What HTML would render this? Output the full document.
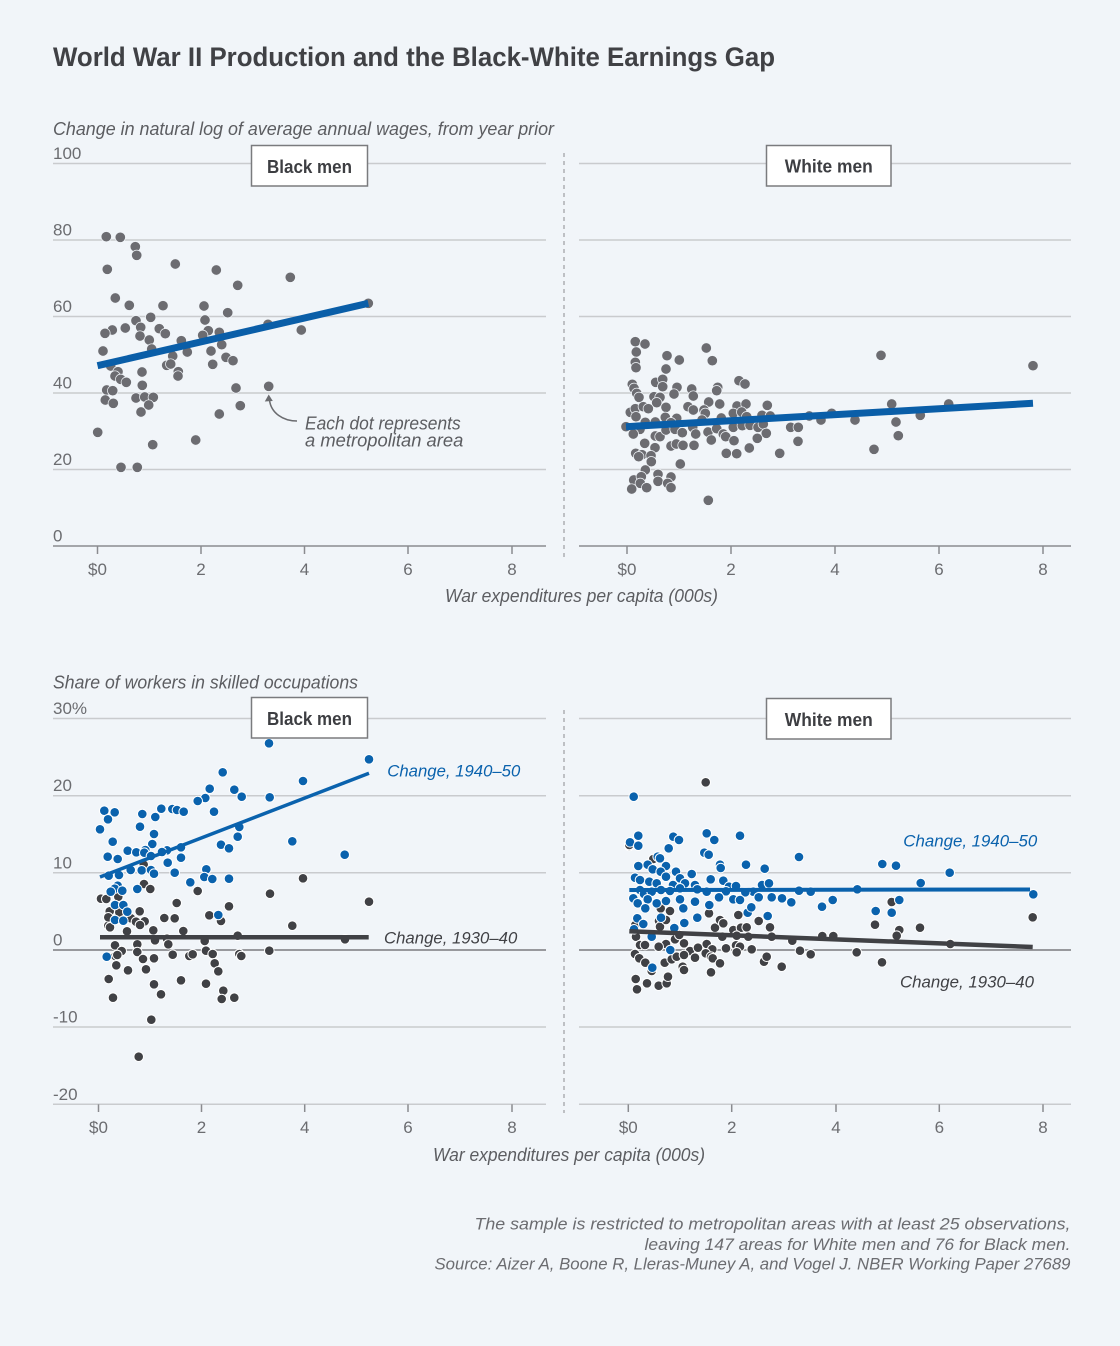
<!DOCTYPE html>
<html><head><meta charset="utf-8"><style>
html,body{margin:0;padding:0;background:#f1f5f9;}
svg{display:block;}
text{font-family:"Liberation Sans",sans-serif;}
</style></head><body>
<svg width="1120" height="1346" viewBox="0 0 1120 1346" xmlns="http://www.w3.org/2000/svg">
<rect x="0" y="0" width="1120" height="1346" fill="#f1f5f9"/>
<text x="53" y="66" font-size="27" font-weight="bold" fill="#404145" textLength="722" lengthAdjust="spacingAndGlyphs">World War II Production and the Black-White Earnings Gap</text>
<text x="53" y="135" font-size="18" font-style="italic" fill="#5c5d61" textLength="501" lengthAdjust="spacingAndGlyphs">Change in natural log of average annual wages, from year prior</text>

<!-- TOP gridlines -->
<g stroke="#c9cbce" stroke-width="1.5">
<line x1="53" y1="163.5" x2="546" y2="163.5"/><line x1="53" y1="240" x2="546" y2="240"/><line x1="53" y1="316.5" x2="546" y2="316.5"/><line x1="53" y1="393" x2="546" y2="393"/><line x1="53" y1="469.5" x2="546" y2="469.5"/>
<line x1="579" y1="163.5" x2="1071" y2="163.5"/><line x1="579" y1="240" x2="1071" y2="240"/><line x1="579" y1="316.5" x2="1071" y2="316.5"/><line x1="579" y1="393" x2="1071" y2="393"/><line x1="579" y1="469.5" x2="1071" y2="469.5"/>
</g>
<g stroke="#8a8b8f" stroke-width="1.5">
<line x1="53" y1="546" x2="546" y2="546"/><line x1="579" y1="546" x2="1071" y2="546"/>
<line x1="97.5" y1="546" x2="97.5" y2="554"/><line x1="201" y1="546" x2="201" y2="554"/><line x1="304.5" y1="546" x2="304.5" y2="554"/><line x1="408" y1="546" x2="408" y2="554"/><line x1="512" y1="546" x2="512" y2="554"/>
<line x1="627" y1="546" x2="627" y2="554"/><line x1="731" y1="546" x2="731" y2="554"/><line x1="835" y1="546" x2="835" y2="554"/><line x1="939" y1="546" x2="939" y2="554"/><line x1="1043" y1="546" x2="1043" y2="554"/>
</g>
<line x1="564" y1="153" x2="564" y2="557" stroke="#8a8b8f" stroke-width="1" stroke-dasharray="4,4"/>
<g font-size="17" fill="#6b6c70">
<text x="53" y="159">100</text><text x="53" y="235.5">80</text><text x="53" y="312">60</text><text x="53" y="388.5">40</text><text x="53" y="465">20</text><text x="53" y="541.5">0</text>
</g>
<g font-size="17" fill="#6b6c70" text-anchor="middle">
<text x="97.5" y="575">$0</text><text x="201" y="575">2</text><text x="304.5" y="575">4</text><text x="408" y="575">6</text><text x="512" y="575">8</text>
<text x="627" y="575">$0</text><text x="731" y="575">2</text><text x="835" y="575">4</text><text x="939" y="575">6</text><text x="1043" y="575">8</text>
</g>
<text x="445" y="602" font-size="18" font-style="italic" fill="#5c5d61" textLength="273" lengthAdjust="spacingAndGlyphs">War expenditures per capita (000s)</text>

<!-- top-left dots -->
<g fill="#6c6c71" stroke="#f1f5f9" stroke-width="0.7">
<circle cx="106.3" cy="236.7" r="5.2"/><circle cx="120.3" cy="237.3" r="5.2"/><circle cx="135.3" cy="246.7" r="5.2"/><circle cx="136.7" cy="255.3" r="5.2"/><circle cx="107.3" cy="269.3" r="5.2"/><circle cx="175.3" cy="264" r="5.2"/><circle cx="216.3" cy="270" r="5.2"/><circle cx="237.7" cy="285.3" r="5.2"/><circle cx="290.3" cy="277.3" r="5.2"/><circle cx="115.3" cy="298" r="5.2"/><circle cx="129.3" cy="305.3" r="5.2"/><circle cx="163" cy="305.7" r="5.2"/><circle cx="204" cy="306" r="5.2"/><circle cx="227.7" cy="312.7" r="5.2"/><circle cx="368.3" cy="303.3" r="5.2"/><circle cx="150.7" cy="317.3" r="5.2"/><circle cx="136" cy="320.7" r="5.2"/><circle cx="205" cy="320" r="5.2"/><circle cx="140.7" cy="327.3" r="5.2"/><circle cx="125.3" cy="328" r="5.2"/><circle cx="159.3" cy="328.7" r="5.2"/><circle cx="112.3" cy="330" r="5.2"/><circle cx="105" cy="333.3" r="5.2"/><circle cx="140" cy="336" r="5.2"/><circle cx="165.3" cy="333.7" r="5.2"/><circle cx="208.3" cy="330.7" r="5.2"/><circle cx="219.3" cy="332.3" r="5.2"/><circle cx="202.7" cy="335.3" r="5.2"/><circle cx="268" cy="324.3" r="5.2"/><circle cx="301.3" cy="330" r="5.2"/><circle cx="149.3" cy="340" r="5.2"/><circle cx="181.3" cy="340.7" r="5.2"/><circle cx="221.7" cy="344.7" r="5.2"/><circle cx="103" cy="351" r="5.2"/><circle cx="151.7" cy="349" r="5.2"/><circle cx="187.3" cy="352" r="5.2"/><circle cx="211" cy="351" r="5.2"/><circle cx="172.7" cy="356" r="5.2"/><circle cx="226" cy="357.3" r="5.2"/><circle cx="233" cy="360.7" r="5.2"/><circle cx="110.7" cy="366" r="5.2"/><circle cx="166.7" cy="365.3" r="5.2"/><circle cx="170.7" cy="364" r="5.2"/><circle cx="212.7" cy="364.3" r="5.2"/><circle cx="118" cy="371.7" r="5.2"/><circle cx="142" cy="372" r="5.2"/><circle cx="178.3" cy="371.7" r="5.2"/><circle cx="115" cy="376" r="5.2"/><circle cx="120.7" cy="379.3" r="5.2"/><circle cx="126.3" cy="382.3" r="5.2"/><circle cx="178" cy="376" r="5.2"/><circle cx="142.3" cy="385.3" r="5.2"/><circle cx="236" cy="388" r="5.2"/><circle cx="268.7" cy="386.3" r="5.2"/><circle cx="106.7" cy="390" r="5.2"/><circle cx="112.7" cy="390.7" r="5.2"/><circle cx="105.3" cy="400" r="5.2"/><circle cx="113.3" cy="403.3" r="5.2"/><circle cx="136" cy="398" r="5.2"/><circle cx="144.7" cy="397" r="5.2"/><circle cx="153.3" cy="397.3" r="5.2"/><circle cx="148.7" cy="405" r="5.2"/><circle cx="141" cy="412" r="5.2"/><circle cx="240.3" cy="405.7" r="5.2"/><circle cx="219.3" cy="414" r="5.2"/><circle cx="97.7" cy="432.3" r="5.2"/><circle cx="195.7" cy="440" r="5.2"/><circle cx="152.7" cy="444.7" r="5.2"/><circle cx="121" cy="467.3" r="5.2"/><circle cx="137.3" cy="467.3" r="5.2"/>
</g>
<line x1="97.5" y1="365.7" x2="368.3" y2="303.3" stroke="#0a5ea8" stroke-width="7"/>
<path d="M297,421 C283,421 271,413 269.5,400" fill="none" stroke="#6b6c70" stroke-width="1.5"/>
<polygon points="268.7,394.5 264.8,401.5 272.8,401" fill="#6b6c70"/>
<text x="305" y="429.3" font-size="18" font-style="italic" fill="#5c5d61" textLength="155.7" lengthAdjust="spacingAndGlyphs">Each dot represents</text>
<text x="305" y="446.7" font-size="18" font-style="italic" fill="#5c5d61" textLength="158.3" lengthAdjust="spacingAndGlyphs">a metropolitan area</text>

<!-- top-right dots -->
<g fill="#6c6c71" stroke="#f1f5f9" stroke-width="0.7">
<circle cx="635.3" cy="341.7" r="5.2"/><circle cx="645" cy="344" r="5.2"/><circle cx="636.3" cy="352" r="5.2"/><circle cx="635.3" cy="362.3" r="5.2"/><circle cx="636" cy="367.7" r="5.2"/><circle cx="667" cy="355.7" r="5.2"/><circle cx="679.3" cy="360" r="5.2"/><circle cx="706.3" cy="348" r="5.2"/><circle cx="712.3" cy="360.7" r="5.2"/><circle cx="881" cy="355.3" r="5.2"/><circle cx="1033" cy="365.7" r="5.2"/><circle cx="666" cy="369" r="5.2"/><circle cx="632.3" cy="384.3" r="5.2"/><circle cx="655.7" cy="382.3" r="5.2"/><circle cx="662.7" cy="379.3" r="5.2"/><circle cx="662.7" cy="386.7" r="5.2"/><circle cx="677" cy="387.3" r="5.2"/><circle cx="674" cy="394" r="5.2"/><circle cx="691.7" cy="389" r="5.2"/><circle cx="693.3" cy="396" r="5.2"/><circle cx="717.7" cy="387.3" r="5.2"/><circle cx="716.7" cy="390.7" r="5.2"/><circle cx="739" cy="380.7" r="5.2"/><circle cx="745" cy="384" r="5.2"/><circle cx="634" cy="388.3" r="5.2"/><circle cx="636.7" cy="393.3" r="5.2"/><circle cx="639" cy="397.3" r="5.2"/><circle cx="654" cy="396.7" r="5.2"/><circle cx="660" cy="397.3" r="5.2"/><circle cx="656.7" cy="402.7" r="5.2"/><circle cx="666" cy="407.3" r="5.2"/><circle cx="708.7" cy="402" r="5.2"/><circle cx="719.7" cy="404" r="5.2"/><circle cx="688" cy="406.7" r="5.2"/><circle cx="693.3" cy="410" r="5.2"/><circle cx="737" cy="406" r="5.2"/><circle cx="746" cy="404" r="5.2"/><circle cx="767.3" cy="405.3" r="5.2"/><circle cx="891.7" cy="404" r="5.2"/><circle cx="948.7" cy="404" r="5.2"/><circle cx="630.3" cy="412.3" r="5.2"/><circle cx="635.3" cy="408.7" r="5.2"/><circle cx="643.3" cy="406.7" r="5.2"/><circle cx="648.3" cy="408.7" r="5.2"/><circle cx="636" cy="416.7" r="5.2"/><circle cx="665.3" cy="417.3" r="5.2"/><circle cx="676.7" cy="418.3" r="5.2"/><circle cx="704" cy="410" r="5.2"/><circle cx="705.3" cy="413.3" r="5.2"/><circle cx="702" cy="420" r="5.2"/><circle cx="721.3" cy="418" r="5.2"/><circle cx="733.3" cy="413.3" r="5.2"/><circle cx="741.7" cy="412" r="5.2"/><circle cx="746.7" cy="416.7" r="5.2"/><circle cx="762" cy="415.3" r="5.2"/><circle cx="770.3" cy="416" r="5.2"/><circle cx="809.3" cy="416" r="5.2"/><circle cx="831.7" cy="413.3" r="5.2"/><circle cx="920.3" cy="415.3" r="5.2"/><circle cx="626" cy="426.7" r="5.2"/><circle cx="645.3" cy="422.3" r="5.2"/><circle cx="640" cy="429.3" r="5.2"/><circle cx="633.3" cy="434" r="5.2"/><circle cx="655.3" cy="422" r="5.2"/><circle cx="655.3" cy="436" r="5.2"/><circle cx="660" cy="436.7" r="5.2"/><circle cx="666" cy="430" r="5.2"/><circle cx="671" cy="422.7" r="5.2"/><circle cx="675" cy="429.3" r="5.2"/><circle cx="682.3" cy="432.7" r="5.2"/><circle cx="692.7" cy="427.3" r="5.2"/><circle cx="695.7" cy="434" r="5.2"/><circle cx="708" cy="432" r="5.2"/><circle cx="716.7" cy="428.7" r="5.2"/><circle cx="723.3" cy="434" r="5.2"/><circle cx="725.7" cy="436.7" r="5.2"/><circle cx="733.3" cy="427.3" r="5.2"/><circle cx="742.3" cy="425.7" r="5.2"/><circle cx="750" cy="425.3" r="5.2"/><circle cx="758" cy="427.3" r="5.2"/><circle cx="763.3" cy="424" r="5.2"/><circle cx="766.3" cy="433.3" r="5.2"/><circle cx="790.7" cy="427.3" r="5.2"/><circle cx="798.3" cy="427.3" r="5.2"/><circle cx="821" cy="420" r="5.2"/><circle cx="855" cy="420" r="5.2"/><circle cx="896" cy="422" r="5.2"/><circle cx="898.3" cy="435.7" r="5.2"/><circle cx="711.3" cy="440" r="5.2"/><circle cx="734" cy="440.7" r="5.2"/><circle cx="757.3" cy="438.3" r="5.2"/><circle cx="798" cy="441.3" r="5.2"/><circle cx="644.7" cy="443.3" r="5.2"/><circle cx="655" cy="447.7" r="5.2"/><circle cx="671" cy="446" r="5.2"/><circle cx="676.3" cy="444" r="5.2"/><circle cx="683" cy="445.3" r="5.2"/><circle cx="694" cy="445.3" r="5.2"/><circle cx="749.3" cy="448" r="5.2"/><circle cx="874" cy="449.3" r="5.2"/><circle cx="635.7" cy="453.3" r="5.2"/><circle cx="642" cy="454.7" r="5.2"/><circle cx="638.7" cy="456.7" r="5.2"/><circle cx="651" cy="455.7" r="5.2"/><circle cx="651.3" cy="461.7" r="5.2"/><circle cx="726.3" cy="453.3" r="5.2"/><circle cx="736.7" cy="453.7" r="5.2"/><circle cx="779.7" cy="453.3" r="5.2"/><circle cx="680.3" cy="464" r="5.2"/><circle cx="645.3" cy="470" r="5.2"/><circle cx="658" cy="474.3" r="5.2"/><circle cx="671" cy="477" r="5.2"/><circle cx="633.7" cy="480" r="5.2"/><circle cx="641.3" cy="476.7" r="5.2"/><circle cx="658" cy="481.3" r="5.2"/><circle cx="640.3" cy="483.3" r="5.2"/><circle cx="667.7" cy="483.3" r="5.2"/><circle cx="631.7" cy="489" r="5.2"/><circle cx="646.7" cy="487.7" r="5.2"/><circle cx="671" cy="487.7" r="5.2"/><circle cx="708.3" cy="500.3" r="5.2"/>
</g>
<line x1="626" y1="426.7" x2="1033" y2="403.3" stroke="#0a5ea8" stroke-width="7"/>

<!-- boxes top -->
<rect x="251.5" y="145.5" width="116" height="40.5" fill="#fff" stroke="#7a7b7e" stroke-width="1.5"/>
<text x="309.5" y="173" font-size="18" font-weight="bold" fill="#3d3e42" text-anchor="middle" textLength="85" lengthAdjust="spacingAndGlyphs">Black men</text>
<rect x="766.5" y="145.5" width="124.5" height="40.5" fill="#fff" stroke="#7a7b7e" stroke-width="1.5"/>
<text x="828.8" y="172.5" font-size="18" font-weight="bold" fill="#3d3e42" text-anchor="middle" textLength="88" lengthAdjust="spacingAndGlyphs">White men</text>

<!-- BOTTOM -->
<text x="53" y="688.3" font-size="18" font-style="italic" fill="#5c5d61" textLength="305" lengthAdjust="spacingAndGlyphs">Share of workers in skilled occupations</text>
<g stroke="#c9cbce" stroke-width="1.5">
<line x1="53" y1="718.5" x2="546" y2="718.5"/><line x1="53" y1="795.7" x2="546" y2="795.7"/><line x1="53" y1="872.8" x2="546" y2="872.8"/><line x1="53" y1="1027" x2="546" y2="1027"/><line x1="53" y1="1104.3" x2="546" y2="1104.3"/>
<line x1="579" y1="718.5" x2="1071" y2="718.5"/><line x1="579" y1="795.7" x2="1071" y2="795.7"/><line x1="579" y1="872.8" x2="1071" y2="872.8"/><line x1="579" y1="1027" x2="1071" y2="1027"/><line x1="579" y1="1104.3" x2="1071" y2="1104.3"/>
</g>
<g stroke="#7a7b7f" stroke-width="1.5">
<line x1="53" y1="950" x2="546" y2="950"/><line x1="579" y1="950" x2="1071" y2="950"/>
</g>
<g stroke="#8a8b8f" stroke-width="1.5">
<line x1="98.5" y1="1104.3" x2="98.5" y2="1112"/><line x1="201.5" y1="1104.3" x2="201.5" y2="1112"/><line x1="304.7" y1="1104.3" x2="304.7" y2="1112"/><line x1="408" y1="1104.3" x2="408" y2="1112"/><line x1="512" y1="1104.3" x2="512" y2="1112"/>
<line x1="628.3" y1="1104.3" x2="628.3" y2="1112"/><line x1="731.7" y1="1104.3" x2="731.7" y2="1112"/><line x1="836" y1="1104.3" x2="836" y2="1112"/><line x1="939.3" y1="1104.3" x2="939.3" y2="1112"/><line x1="1043" y1="1104.3" x2="1043" y2="1112"/>
</g>
<line x1="564" y1="710" x2="564" y2="1113" stroke="#8a8b8f" stroke-width="1" stroke-dasharray="4,4"/>
<g font-size="17" fill="#6b6c70">
<text x="53" y="714">30%</text><text x="53" y="791">20</text><text x="53" y="868.5">10</text><text x="53" y="945.5">0</text><text x="53" y="1022.5">-10</text><text x="53" y="1100">-20</text>
</g>
<g font-size="17" fill="#6b6c70" text-anchor="middle">
<text x="98.5" y="1133">$0</text><text x="201.5" y="1133">2</text><text x="304.7" y="1133">4</text><text x="408" y="1133">6</text><text x="512" y="1133">8</text>
<text x="628.3" y="1133">$0</text><text x="731.7" y="1133">2</text><text x="836" y="1133">4</text><text x="939.3" y="1133">6</text><text x="1043" y="1133">8</text>
</g>
<text x="433" y="1161" font-size="18" font-style="italic" fill="#5c5d61" textLength="272" lengthAdjust="spacingAndGlyphs">War expenditures per capita (000s)</text>

<!-- bottom-left gray dots -->
<g fill="#404145" stroke="#ffffff" stroke-width="1">
<circle cx="270" cy="893.7" r="4.8"/><circle cx="303" cy="878.3" r="4.8"/><circle cx="369" cy="901.7" r="4.8"/><circle cx="143.7" cy="864.7" r="4.8"/><circle cx="144" cy="884" r="4.8"/><circle cx="150.3" cy="889" r="4.8"/><circle cx="197.7" cy="891" r="4.8"/><circle cx="176.7" cy="903" r="4.8"/><circle cx="229" cy="906.3" r="4.8"/><circle cx="292.3" cy="925.7" r="4.8"/><circle cx="101" cy="898.7" r="4.8"/><circle cx="106.3" cy="899" r="4.8"/><circle cx="118.3" cy="896.7" r="4.8"/><circle cx="109.7" cy="911.3" r="4.8"/><circle cx="119.3" cy="912.3" r="4.8"/><circle cx="139.7" cy="911.3" r="4.8"/><circle cx="164.3" cy="918" r="4.8"/><circle cx="174.7" cy="918.3" r="4.8"/><circle cx="209.3" cy="915.3" r="4.8"/><circle cx="131" cy="918.3" r="4.8"/><circle cx="144.7" cy="921.3" r="4.8"/><circle cx="108.3" cy="925.7" r="4.8"/><circle cx="221" cy="921" r="4.8"/><circle cx="108.3" cy="917.3" r="4.8"/><circle cx="136" cy="921.7" r="4.8"/><circle cx="140" cy="925" r="4.8"/><circle cx="110" cy="927.3" r="4.8"/><circle cx="127" cy="931.3" r="4.8"/><circle cx="153.3" cy="930.3" r="4.8"/><circle cx="183.3" cy="931" r="4.8"/><circle cx="237.7" cy="935.7" r="4.8"/><circle cx="167" cy="938.7" r="4.8"/><circle cx="155" cy="940.3" r="4.8"/><circle cx="204.7" cy="941" r="4.8"/><circle cx="345" cy="939.3" r="4.8"/><circle cx="115" cy="945.3" r="4.8"/><circle cx="137.3" cy="944.3" r="4.8"/><circle cx="168.3" cy="944.3" r="4.8"/><circle cx="121.7" cy="951" r="4.8"/><circle cx="137.3" cy="952" r="4.8"/><circle cx="206" cy="950.7" r="4.8"/><circle cx="212.7" cy="954" r="4.8"/><circle cx="269.3" cy="950.7" r="4.8"/><circle cx="115.3" cy="956" r="4.8"/><circle cx="117.3" cy="955" r="4.8"/><circle cx="172.7" cy="954.7" r="4.8"/><circle cx="189.3" cy="956" r="4.8"/><circle cx="192.7" cy="954.3" r="4.8"/><circle cx="239.3" cy="954" r="4.8"/><circle cx="241.3" cy="956" r="4.8"/><circle cx="143" cy="959" r="4.8"/><circle cx="154" cy="958.3" r="4.8"/><circle cx="116.3" cy="965.3" r="4.8"/><circle cx="214.7" cy="963.3" r="4.8"/><circle cx="128" cy="970.3" r="4.8"/><circle cx="146" cy="969.3" r="4.8"/><circle cx="218.3" cy="971.3" r="4.8"/><circle cx="108.7" cy="979" r="4.8"/><circle cx="181" cy="980.3" r="4.8"/><circle cx="154" cy="984.3" r="4.8"/><circle cx="206" cy="983.7" r="4.8"/><circle cx="161" cy="994.3" r="4.8"/><circle cx="223.3" cy="990.7" r="4.8"/><circle cx="113" cy="997.7" r="4.8"/><circle cx="221.7" cy="999" r="4.8"/><circle cx="234.3" cy="997.7" r="4.8"/><circle cx="151.3" cy="1019.7" r="4.8"/><circle cx="138.7" cy="1056.7" r="4.8"/>
</g>
<!-- bottom-left blue dots -->
<g fill="#0a62ad" stroke="#ffffff" stroke-width="1">
<circle cx="269" cy="743.3" r="4.8"/><circle cx="369" cy="759.3" r="4.8"/><circle cx="303" cy="781" r="4.8"/><circle cx="222.7" cy="772.3" r="4.8"/><circle cx="209.7" cy="788.7" r="4.8"/><circle cx="205.3" cy="798" r="4.8"/><circle cx="197.7" cy="801" r="4.8"/><circle cx="234.3" cy="789.7" r="4.8"/><circle cx="241.7" cy="796.7" r="4.8"/><circle cx="269.7" cy="797.3" r="4.8"/><circle cx="104.3" cy="810.7" r="4.8"/><circle cx="114.7" cy="812.3" r="4.8"/><circle cx="108" cy="819.3" r="4.8"/><circle cx="142.3" cy="814" r="4.8"/><circle cx="161.3" cy="808.7" r="4.8"/><circle cx="172.3" cy="809" r="4.8"/><circle cx="177" cy="810" r="4.8"/><circle cx="183.7" cy="811.7" r="4.8"/><circle cx="214" cy="811.7" r="4.8"/><circle cx="155.3" cy="817" r="4.8"/><circle cx="140" cy="826.7" r="4.8"/><circle cx="100" cy="829.3" r="4.8"/><circle cx="239.3" cy="827" r="4.8"/><circle cx="154" cy="834" r="4.8"/><circle cx="237.7" cy="836.7" r="4.8"/><circle cx="112.7" cy="841.7" r="4.8"/><circle cx="292.3" cy="841.3" r="4.8"/><circle cx="152.3" cy="844" r="4.8"/><circle cx="221" cy="844.7" r="4.8"/><circle cx="229" cy="848.3" r="4.8"/><circle cx="127.7" cy="850.7" r="4.8"/><circle cx="136.3" cy="852.3" r="4.8"/><circle cx="145.3" cy="850" r="4.8"/><circle cx="144.3" cy="852.7" r="4.8"/><circle cx="167" cy="850.3" r="4.8"/><circle cx="162" cy="852" r="4.8"/><circle cx="181" cy="847.3" r="4.8"/><circle cx="151" cy="856" r="4.8"/><circle cx="107.7" cy="856.7" r="4.8"/><circle cx="117.7" cy="859" r="4.8"/><circle cx="181" cy="857.7" r="4.8"/><circle cx="344.7" cy="854.7" r="4.8"/><circle cx="167.7" cy="862.7" r="4.8"/><circle cx="130.7" cy="870" r="4.8"/><circle cx="141.7" cy="870.3" r="4.8"/><circle cx="151" cy="870" r="4.8"/><circle cx="154" cy="873.7" r="4.8"/><circle cx="174.7" cy="872.7" r="4.8"/><circle cx="206.3" cy="869.3" r="4.8"/><circle cx="204.3" cy="877" r="4.8"/><circle cx="212.3" cy="879" r="4.8"/><circle cx="229" cy="878.7" r="4.8"/><circle cx="108.7" cy="875.7" r="4.8"/><circle cx="119" cy="875" r="4.8"/><circle cx="190.3" cy="882.3" r="4.8"/><circle cx="137.3" cy="889" r="4.8"/><circle cx="117.7" cy="885.7" r="4.8"/><circle cx="114.7" cy="888.7" r="4.8"/><circle cx="110.7" cy="891.7" r="4.8"/><circle cx="122.3" cy="890.7" r="4.8"/><circle cx="115" cy="905" r="4.8"/><circle cx="123.3" cy="905" r="4.8"/><circle cx="127.3" cy="911.7" r="4.8"/><circle cx="115" cy="920" r="4.8"/><circle cx="123.3" cy="920.7" r="4.8"/><circle cx="218.3" cy="915" r="4.8"/><circle cx="106.7" cy="956.7" r="4.8"/>
</g>
<line x1="100" y1="937.3" x2="368.7" y2="937.3" stroke="#404145" stroke-width="4.5"/>
<line x1="100" y1="877" x2="369" y2="773.3" stroke="#0a62ad" stroke-width="3.5"/>
<text x="387.3" y="776.7" font-size="17" font-style="italic" fill="#0a62ad" textLength="133" lengthAdjust="spacingAndGlyphs">Change, 1940–50</text>
<text x="384" y="943.3" font-size="17" font-style="italic" fill="#404145" textLength="133.3" lengthAdjust="spacingAndGlyphs">Change, 1930–40</text>

<!-- bottom-right gray dots -->
<g fill="#404145" stroke="#ffffff" stroke-width="1">
<circle cx="705.7" cy="782.3" r="4.8"/><circle cx="629.3" cy="846" r="4.8"/><circle cx="653.3" cy="859" r="4.8"/><circle cx="891.7" cy="902" r="4.8"/><circle cx="1032.7" cy="917.3" r="4.8"/><circle cx="875" cy="924.7" r="4.8"/><circle cx="920" cy="927.7" r="4.8"/><circle cx="899.3" cy="930" r="4.8"/><circle cx="896.7" cy="935.7" r="4.8"/><circle cx="770" cy="927.3" r="4.8"/><circle cx="758.7" cy="921" r="4.8"/><circle cx="738.3" cy="915" r="4.8"/><circle cx="709" cy="913.3" r="4.8"/><circle cx="715" cy="927.7" r="4.8"/><circle cx="720" cy="920" r="4.8"/><circle cx="723.3" cy="923.3" r="4.8"/><circle cx="733.3" cy="930" r="4.8"/><circle cx="741" cy="927.7" r="4.8"/><circle cx="746.7" cy="927.3" r="4.8"/><circle cx="748.3" cy="936.7" r="4.8"/><circle cx="771.7" cy="936.7" r="4.8"/><circle cx="792.3" cy="940.7" r="4.8"/><circle cx="822.3" cy="936" r="4.8"/><circle cx="833.3" cy="936" r="4.8"/><circle cx="950.3" cy="944" r="4.8"/><circle cx="722.3" cy="936.7" r="4.8"/><circle cx="736.7" cy="935.7" r="4.8"/><circle cx="635.3" cy="925" r="4.8"/><circle cx="636" cy="936.7" r="4.8"/><circle cx="640" cy="945" r="4.8"/><circle cx="645" cy="945" r="4.8"/><circle cx="659" cy="921" r="4.8"/><circle cx="660" cy="926.7" r="4.8"/><circle cx="666" cy="920" r="4.8"/><circle cx="670" cy="911" r="4.8"/><circle cx="660.7" cy="908.3" r="4.8"/><circle cx="675" cy="939.3" r="4.8"/><circle cx="679.3" cy="935" r="4.8"/><circle cx="666" cy="944" r="4.8"/><circle cx="658.7" cy="946.7" r="4.8"/><circle cx="684" cy="943.3" r="4.8"/><circle cx="690" cy="951" r="4.8"/><circle cx="698" cy="947.7" r="4.8"/><circle cx="706.7" cy="944" r="4.8"/><circle cx="712.3" cy="949.3" r="4.8"/><circle cx="726" cy="948.3" r="4.8"/><circle cx="736" cy="945.3" r="4.8"/><circle cx="740" cy="946.7" r="4.8"/><circle cx="751.7" cy="949.3" r="4.8"/><circle cx="736.7" cy="952.3" r="4.8"/><circle cx="800" cy="950.7" r="4.8"/><circle cx="810.7" cy="954.3" r="4.8"/><circle cx="856.7" cy="952.3" r="4.8"/><circle cx="635" cy="954" r="4.8"/><circle cx="639.3" cy="958.3" r="4.8"/><circle cx="645.3" cy="962.7" r="4.8"/><circle cx="651.7" cy="971" r="4.8"/><circle cx="664.7" cy="962.7" r="4.8"/><circle cx="671.7" cy="959.3" r="4.8"/><circle cx="676.7" cy="956.7" r="4.8"/><circle cx="684" cy="955" r="4.8"/><circle cx="682.7" cy="966.7" r="4.8"/><circle cx="684" cy="970" r="4.8"/><circle cx="695" cy="957.7" r="4.8"/><circle cx="705.7" cy="953.3" r="4.8"/><circle cx="711" cy="956.7" r="4.8"/><circle cx="712.7" cy="958.3" r="4.8"/><circle cx="720" cy="963.3" r="4.8"/><circle cx="711" cy="972.3" r="4.8"/><circle cx="764" cy="961.7" r="4.8"/><circle cx="766.7" cy="956.7" r="4.8"/><circle cx="781.7" cy="966.7" r="4.8"/><circle cx="882" cy="962.3" r="4.8"/><circle cx="635.7" cy="979" r="4.8"/><circle cx="637" cy="989.3" r="4.8"/><circle cx="647" cy="983.3" r="4.8"/><circle cx="658.7" cy="985.7" r="4.8"/><circle cx="666.7" cy="983.3" r="4.8"/><circle cx="668" cy="976.7" r="4.8"/><circle cx="629.3" cy="845" r="4.8"/>
</g>
<!-- bottom-right blue dots -->
<g fill="#0a62ad" stroke="#ffffff" stroke-width="1">
<circle cx="633.7" cy="796.7" r="4.8"/><circle cx="630" cy="842.3" r="4.8"/><circle cx="638.3" cy="835.7" r="4.8"/><circle cx="638.3" cy="845.7" r="4.8"/><circle cx="673.3" cy="836.7" r="4.8"/><circle cx="679" cy="840" r="4.8"/><circle cx="668.7" cy="848.3" r="4.8"/><circle cx="706.7" cy="833.3" r="4.8"/><circle cx="714.3" cy="840" r="4.8"/><circle cx="740" cy="835.7" r="4.8"/><circle cx="704.3" cy="852.7" r="4.8"/><circle cx="708.7" cy="854.7" r="4.8"/><circle cx="799" cy="857" r="4.8"/><circle cx="638.3" cy="866" r="4.8"/><circle cx="647.7" cy="864.7" r="4.8"/><circle cx="652.7" cy="869.3" r="4.8"/><circle cx="657.7" cy="856.7" r="4.8"/><circle cx="660" cy="858.3" r="4.8"/><circle cx="666" cy="866" r="4.8"/><circle cx="660.7" cy="871.7" r="4.8"/><circle cx="676" cy="871.7" r="4.8"/><circle cx="680" cy="878.3" r="4.8"/><circle cx="691.7" cy="874" r="4.8"/><circle cx="720" cy="864.7" r="4.8"/><circle cx="720.7" cy="868" r="4.8"/><circle cx="746" cy="864.7" r="4.8"/><circle cx="764.7" cy="868.7" r="4.8"/><circle cx="882.3" cy="864" r="4.8"/><circle cx="896" cy="865.7" r="4.8"/><circle cx="949.7" cy="872.7" r="4.8"/><circle cx="635" cy="877.7" r="4.8"/><circle cx="640" cy="880" r="4.8"/><circle cx="649.3" cy="881.7" r="4.8"/><circle cx="656.7" cy="883.3" r="4.8"/><circle cx="666" cy="876.7" r="4.8"/><circle cx="673" cy="885" r="4.8"/><circle cx="685" cy="883.3" r="4.8"/><circle cx="695" cy="885" r="4.8"/><circle cx="710.7" cy="879.3" r="4.8"/><circle cx="723.3" cy="880.7" r="4.8"/><circle cx="729" cy="886.7" r="4.8"/><circle cx="736" cy="886" r="4.8"/><circle cx="753.3" cy="891.7" r="4.8"/><circle cx="762" cy="885" r="4.8"/><circle cx="769" cy="883.3" r="4.8"/><circle cx="920.7" cy="883" r="4.8"/><circle cx="640" cy="890" r="4.8"/><circle cx="644" cy="894" r="4.8"/><circle cx="651.7" cy="891.7" r="4.8"/><circle cx="661" cy="890" r="4.8"/><circle cx="670" cy="891" r="4.8"/><circle cx="680" cy="888.3" r="4.8"/><circle cx="697.3" cy="889.3" r="4.8"/><circle cx="706.7" cy="891.7" r="4.8"/><circle cx="726" cy="891.3" r="4.8"/><circle cx="745.3" cy="892.3" r="4.8"/><circle cx="799" cy="890.7" r="4.8"/><circle cx="810.7" cy="891.7" r="4.8"/><circle cx="857.3" cy="889.3" r="4.8"/><circle cx="1033.3" cy="894.3" r="4.8"/><circle cx="633.3" cy="898.3" r="4.8"/><circle cx="637.7" cy="903.3" r="4.8"/><circle cx="647.7" cy="899.3" r="4.8"/><circle cx="656.7" cy="903.3" r="4.8"/><circle cx="666" cy="901" r="4.8"/><circle cx="680" cy="899.3" r="4.8"/><circle cx="695" cy="901.7" r="4.8"/><circle cx="709.3" cy="905" r="4.8"/><circle cx="719" cy="897.3" r="4.8"/><circle cx="733.3" cy="899.3" r="4.8"/><circle cx="740" cy="900" r="4.8"/><circle cx="758.7" cy="897.3" r="4.8"/><circle cx="771.7" cy="897.3" r="4.8"/><circle cx="782" cy="898.3" r="4.8"/><circle cx="791.3" cy="902.3" r="4.8"/><circle cx="832.7" cy="900" r="4.8"/><circle cx="899.3" cy="900" r="4.8"/><circle cx="645.3" cy="908.3" r="4.8"/><circle cx="661" cy="917.7" r="4.8"/><circle cx="683.3" cy="908.3" r="4.8"/><circle cx="697.3" cy="917.7" r="4.8"/><circle cx="747.7" cy="912.7" r="4.8"/><circle cx="751.3" cy="907.3" r="4.8"/><circle cx="822" cy="906.7" r="4.8"/><circle cx="875.7" cy="911" r="4.8"/><circle cx="891.7" cy="912.7" r="4.8"/><circle cx="767.7" cy="916" r="4.8"/><circle cx="637.3" cy="918.3" r="4.8"/><circle cx="643.3" cy="924" r="4.8"/><circle cx="684.3" cy="923" r="4.8"/><circle cx="674.3" cy="928" r="4.8"/><circle cx="634" cy="929.3" r="4.8"/><circle cx="651.7" cy="936.7" r="4.8"/><circle cx="670.3" cy="950" r="4.8"/><circle cx="652.3" cy="967.7" r="4.8"/>
</g>
<line x1="629.3" y1="890" x2="1030" y2="889.5" stroke="#0a62ad" stroke-width="4"/>
<line x1="629.3" y1="931.3" x2="1032.7" y2="947" stroke="#404145" stroke-width="4.5"/>
<text x="903.3" y="846.7" font-size="17" font-style="italic" fill="#0a62ad" textLength="134" lengthAdjust="spacingAndGlyphs">Change, 1940–50</text>
<text x="900" y="987.7" font-size="17" font-style="italic" fill="#404145" textLength="134" lengthAdjust="spacingAndGlyphs">Change, 1930–40</text>

<!-- boxes bottom -->
<rect x="251.5" y="697.5" width="116" height="40.5" fill="#fff" stroke="#7a7b7e" stroke-width="1.5"/>
<text x="309.5" y="725" font-size="18" font-weight="bold" fill="#3d3e42" text-anchor="middle" textLength="85" lengthAdjust="spacingAndGlyphs">Black men</text>
<rect x="766.5" y="698.5" width="124.5" height="40.5" fill="#fff" stroke="#7a7b7e" stroke-width="1.5"/>
<text x="828.8" y="726" font-size="18" font-weight="bold" fill="#3d3e42" text-anchor="middle" textLength="88" lengthAdjust="spacingAndGlyphs">White men</text>

<!-- footer -->
<g font-size="17" font-style="italic" fill="#6b6c70" text-anchor="end">
<text x="1070.5" y="1229.3" textLength="596" lengthAdjust="spacingAndGlyphs">The sample is restricted to metropolitan areas with at least 25 observations,</text>
<text x="1070.5" y="1250" textLength="426" lengthAdjust="spacingAndGlyphs">leaving 147 areas for White men and 76 for Black men.</text>
<text x="1070.5" y="1269.5" textLength="636" lengthAdjust="spacingAndGlyphs">Source: Aizer A, Boone R, Lleras-Muney A, and Vogel J. NBER Working Paper 27689</text>
</g>
</svg>
</body></html>
